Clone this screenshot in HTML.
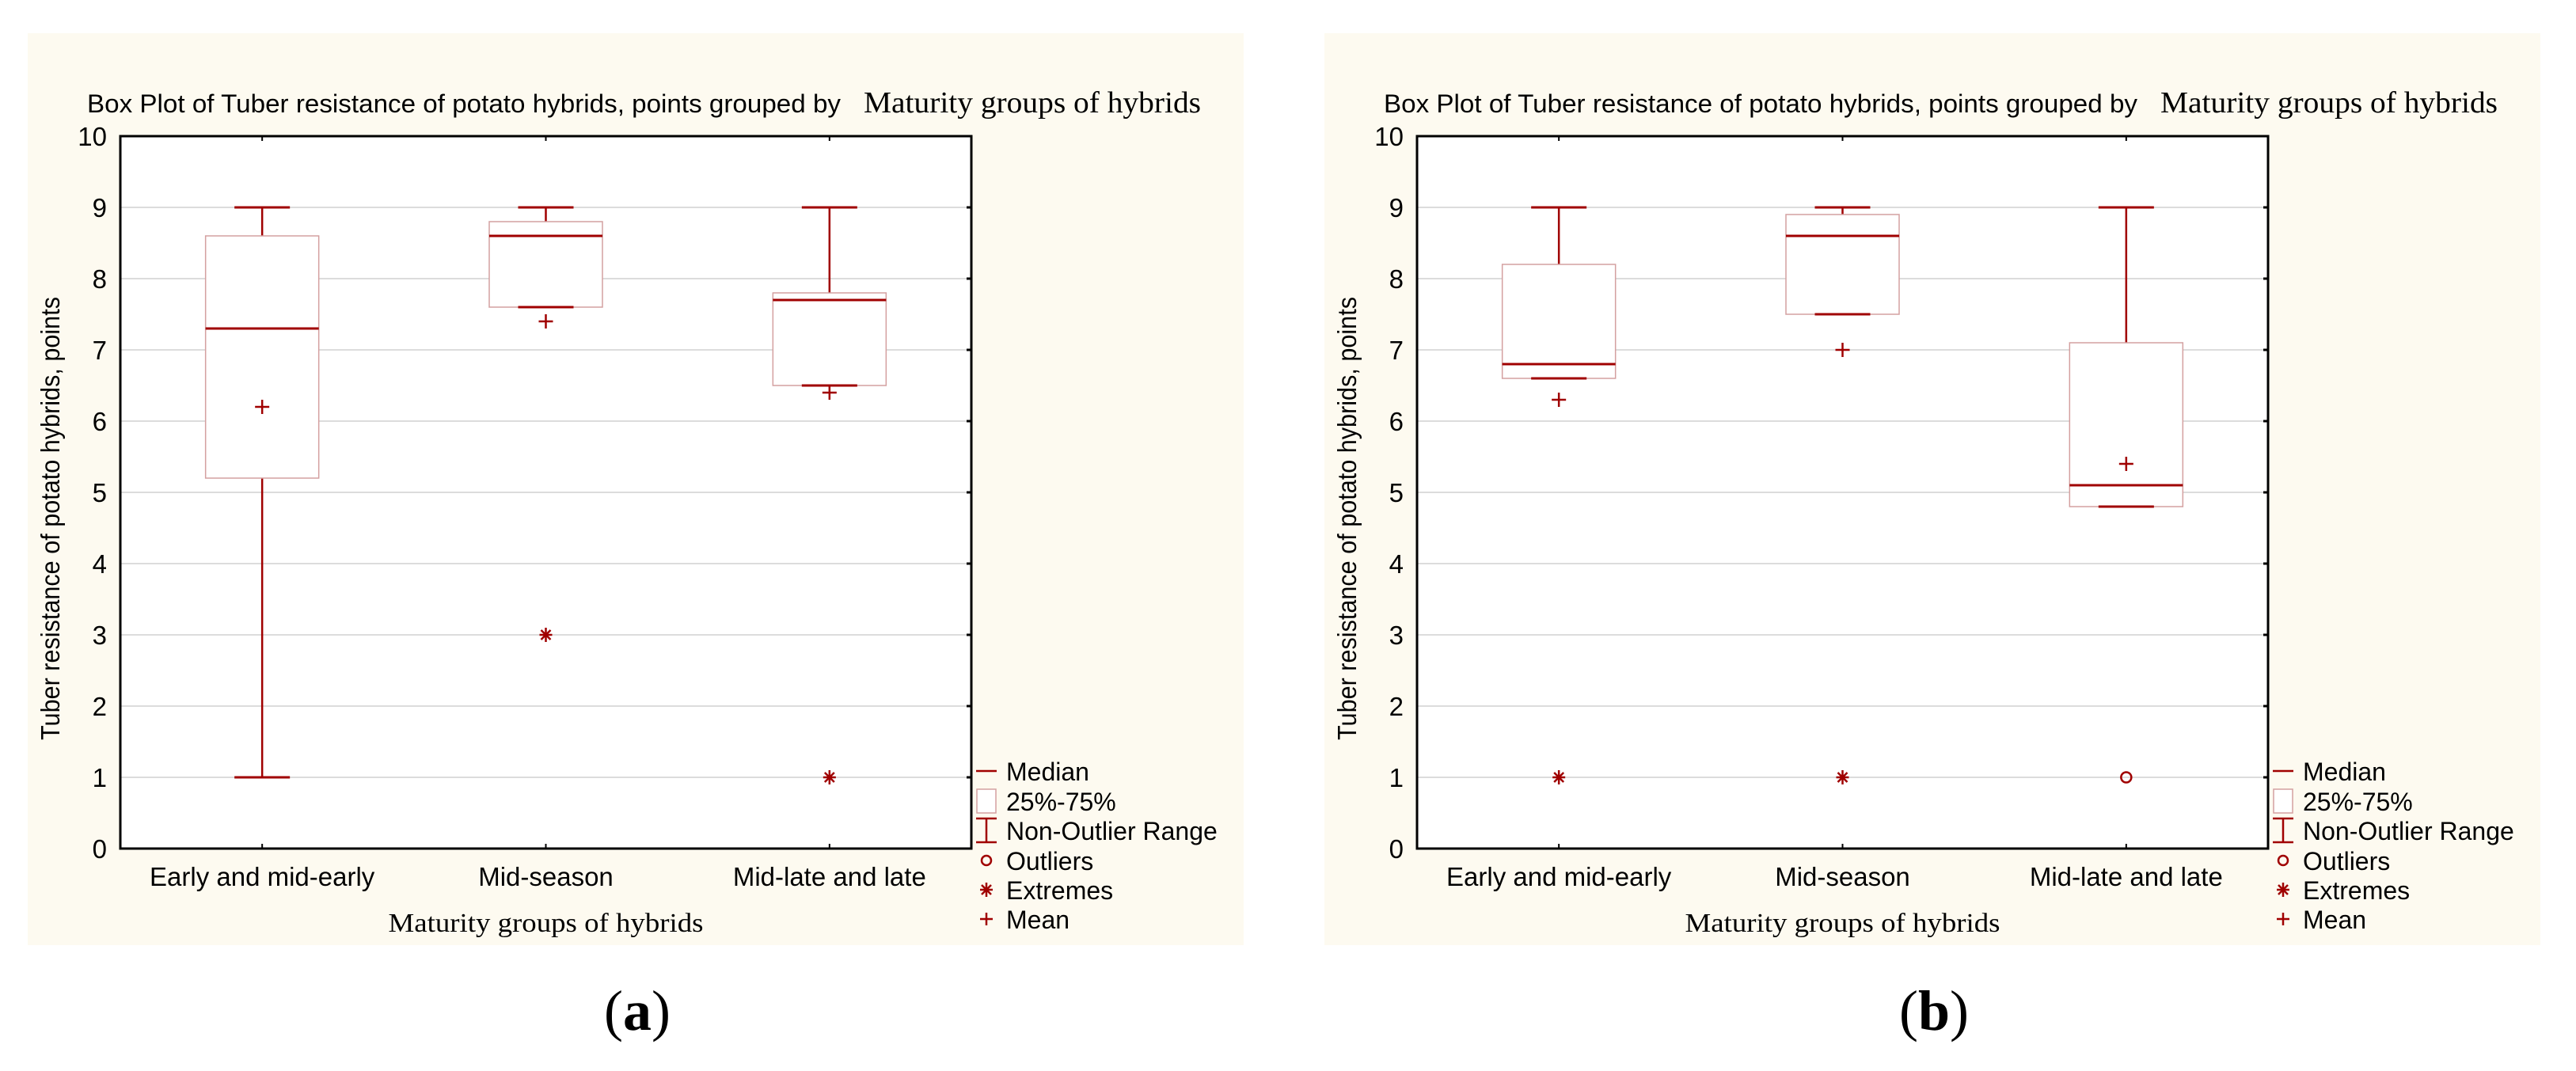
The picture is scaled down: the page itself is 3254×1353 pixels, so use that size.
<!DOCTYPE html>
<html><head><meta charset="utf-8"><style>
html,body{margin:0;padding:0;background:#fff;}
svg{display:block;}
text{font-family:"Liberation Sans",Arial,sans-serif;fill:#000;}
.serif{font-family:"Liberation Serif","Times New Roman",serif;}
</style></head><body>
<svg id="chart" width="3254" height="1353" viewBox="0 0 3254 1353" xmlns="http://www.w3.org/2000/svg"></svg>
<script>
const categories = ["Early and mid-early", "Mid-season", "Mid-late and late"];
const yTicks = [0,1,2,3,4,5,6,7,8,9,10];
// panel (a)
const aWhiskerHigh = [9, 9, 9];
const aQ3 = [8.6, 8.8, 7.8];
const aMedian = [7.3, 8.6, 7.7];
const aQ1 = [5.2, 7.6, 6.5];
const aWhiskerLow = [1, 7.6, 6.5];
const aMean = [6.2, 7.4, 6.4];
const aExtremes = [null, 3, 1];
const aOutliers = [null, null, null];
// panel (b)
const bWhiskerHigh = [9, 9, 9];
const bQ3 = [8.2, 8.9, 7.1];
const bMedian = [6.8, 8.6, 5.1];
const bQ1 = [6.6, 7.5, 4.8];
const bWhiskerLow = [6.6, 7.5, 4.8];
const bMean = [6.3, 7.0, 5.4];
const bExtremes = [1, 1, null];
const bOutliers = [null, null, 1];
const legendLabels = ["Median", "25%-75%", "Non-Outlier Range", "Outliers", "Extremes", "Mean"];

const NS = "http://www.w3.org/2000/svg";
const svg = document.getElementById("chart");
const RED = "#a00000";
function mk(tag, attrs, parent, txt) {
  const e = document.createElementNS(NS, tag);
  for (const k in attrs) e.setAttribute(k, attrs[k]);
  if (txt !== undefined) e.textContent = txt;
  parent.appendChild(e);
  return e;
}

function drawPanel(ox, label, d) {
  const g = mk("g", {}, svg);
  
  
  const bg = mk("rect", {x: ox, y: 42, width: 1536, height: 1152, fill: "#fdfaf0"}, g);
  
  
  const L = ox + 117, R = ox + 1192, T = 172, B = 1072;
  const ys = v => B - (v - yTicks[0]) / (yTicks[yTicks.length-1] - yTicks[0]) * (B - T);
  const bw = (R - L) / categories.length;
  const xs = i => L + bw * (i + 0.5);

  const t1 = mk("text", {x: ox + 75, y: 142, "font-size": 32, textLength: 952, lengthAdjust: "spacingAndGlyphs"}, g, "Box Plot of Tuber resistance of potato hybrids, points grouped by");
  
  
  const t2 = mk("text", {x: ox + 1056, y: 142, "font-size": 38, "class": "serif", textLength: 426, lengthAdjust: "spacingAndGlyphs"}, g, "Maturity groups of hybrids");
  
  

  const plot = mk("rect", {x: L, y: T, width: R - L, height: B - T, fill: "#fff"}, g);
  
  

  yTicks.forEach(v => {
    const y = ys(v);
    if (v > yTicks[0] && v < yTicks[yTicks.length-1]) {
      const gl = mk("line", {x1: L, x2: R, y1: y, y2: y, stroke: "#dcdcdc", "stroke-width": 2}, g);
      
      
    }
    const tk = mk("line", {x1: R - 6, x2: R, y1: y, y2: y, stroke: "#000", "stroke-width": 3}, g);
    
    
    const tl = mk("text", {x: L - 17, y: y + 12, "font-size": 33, "text-anchor": "end"}, g, String(v));
    
    
  });

  categories.forEach((c, i) => {
    const x = xs(i);
    const tk1 = mk("line", {x1: x, x2: x, y1: T, y2: T + 6, stroke: "#000", "stroke-width": 2}, g);
    
    
    const tk2 = mk("line", {x1: x, x2: x, y1: B - 6, y2: B, stroke: "#000", "stroke-width": 2}, g);
    
    
    const cl = mk("text", {x: x, y: 1119, "font-size": 33, "text-anchor": "middle"}, g, c);
    
    

    const box = mk("g", {}, g);
    
    
    const wh = mk("line", {x1: x, x2: x, y1: ys(d.whiskerHigh[i]), y2: ys(d.q3[i]), stroke: RED, "stroke-width": 2.5}, box);
    
    
    const wl = mk("line", {x1: x, x2: x, y1: ys(d.q1[i]), y2: ys(d.whiskerLow[i]), stroke: RED, "stroke-width": 2.5}, box);
    
    
    const rc = mk("rect", {x: x - 71.5, y: ys(d.q3[i]), width: 143, height: ys(d.q1[i]) - ys(d.q3[i]), fill: "#fff", stroke: "#d4a0a0", "stroke-width": 1.5}, box);
    
    
    const ch = mk("line", {x1: x - 35, x2: x + 35, y1: ys(d.whiskerHigh[i]), y2: ys(d.whiskerHigh[i]), stroke: RED, "stroke-width": 3}, box);
    
    
    const cw = mk("line", {x1: x - 35, x2: x + 35, y1: ys(d.whiskerLow[i]), y2: ys(d.whiskerLow[i]), stroke: RED, "stroke-width": 3}, box);
    
    
    const md = mk("line", {x1: x - 71.5, x2: x + 71.5, y1: ys(d.median[i]), y2: ys(d.median[i]), stroke: RED, "stroke-width": 3}, box);
    
    
    const my = ys(d.mean[i]);
    const mn = mk("path", {d: `M${x-9},${my}H${x+9}M${x},${my-9}V${my+9}`, stroke: RED, "stroke-width": 2.5, fill: "none"}, box);
    
    
    if (d.extremes[i] !== null) {
      const ey = ys(d.extremes[i]);
      const ex = mk("path", {d: `M${x-8},${ey}H${x+8}M${x},${ey-9}V${ey+9}M${x-6},${ey-6}L${x+6},${ey+6}M${x-6},${ey+6}L${x+6},${ey-6}`, stroke: RED, "stroke-width": 2.5, fill: "none"}, box);
      
      
    }
    if (d.outliers[i] !== null) {
      const oc = mk("circle", {cx: x, cy: ys(d.outliers[i]), r: 6.5, stroke: RED, "stroke-width": 2.5, fill: "none"}, box);
      
      
    }
  });

  const frame = mk("rect", {x: L, y: T, width: R - L, height: B - T, fill: "none", stroke: "#000", "stroke-width": 3}, g);
  
  

  const yt = mk("text", {x: 0, y: 0, "font-size": 33, "text-anchor": "middle", textLength: 560, lengthAdjust: "spacingAndGlyphs", transform: `translate(${ox + 40},655) rotate(-90)`}, g, "Tuber resistance of potato hybrids, points");
  
  
  const xt = mk("text", {x: (L + R) / 2, y: 1177, "font-size": 34, "class": "serif", "text-anchor": "middle", textLength: 398, lengthAdjust: "spacingAndGlyphs"}, g, "Maturity groups of hybrids");
  
  

  // legend
  const lg = mk("g", {}, g);
  
  
  const sx = ox + 1211, tx = ox + 1236;
  const rows = [974, 1012, 1049, 1087, 1124, 1161];
  legendLabels.forEach((lab, k) => {
    const cy = rows[k];
    const en = mk("g", {}, lg);
    
    
    if (k === 0) mk("line", {x1: sx - 13, x2: sx + 13, y1: cy, y2: cy, stroke: RED, "stroke-width": 2.5}, en);
    if (k === 1) mk("rect", {x: sx - 12, y: cy - 15, width: 24, height: 30, fill: "#fff", stroke: "#d4a0a0", "stroke-width": 1.5}, en);
    if (k === 2) mk("path", {d: `M${sx-13},${cy-15}H${sx+13}M${sx},${cy-15}V${cy+15}M${sx-13},${cy+15}H${sx+13}`, stroke: RED, "stroke-width": 2.5, fill: "none"}, en);
    if (k === 3) mk("circle", {cx: sx, cy: cy, r: 6, stroke: RED, "stroke-width": 2.5, fill: "none"}, en);
    if (k === 4) mk("path", {d: `M${sx-8},${cy}H${sx+8}M${sx},${cy-9}V${cy+9}M${sx-6},${cy-6}L${sx+6},${cy+6}M${sx-6},${cy+6}L${sx+6},${cy-6}`, stroke: RED, "stroke-width": 2.5, fill: "none"}, en);
    if (k === 5) mk("path", {d: `M${sx-8},${cy}H${sx+8}M${sx},${cy-8}V${cy+8}`, stroke: RED, "stroke-width": 2.5, fill: "none"}, en);
    mk("text", {x: tx, y: cy + 12, "font-size": 32}, en, lab);
  });

  const pl = mk("text", {x: ox + 770, y: 1301, "font-size": 72, "text-anchor": "middle", "class": "serif", "font-weight": "bold"}, svg);
  
  
  mk("tspan", {"font-weight": "normal"}, pl, "(");
  mk("tspan", {}, pl, label);
  mk("tspan", {"font-weight": "normal"}, pl, ")");
}

drawPanel(35, "a", {whiskerHigh: aWhiskerHigh, q3: aQ3, median: aMedian, q1: aQ1, whiskerLow: aWhiskerLow, mean: aMean, extremes: aExtremes, outliers: aOutliers});
drawPanel(1673, "b", {whiskerHigh: bWhiskerHigh, q3: bQ3, median: bMedian, q1: bQ1, whiskerLow: bWhiskerLow, mean: bMean, extremes: bExtremes, outliers: bOutliers});
</script>
</body></html>
